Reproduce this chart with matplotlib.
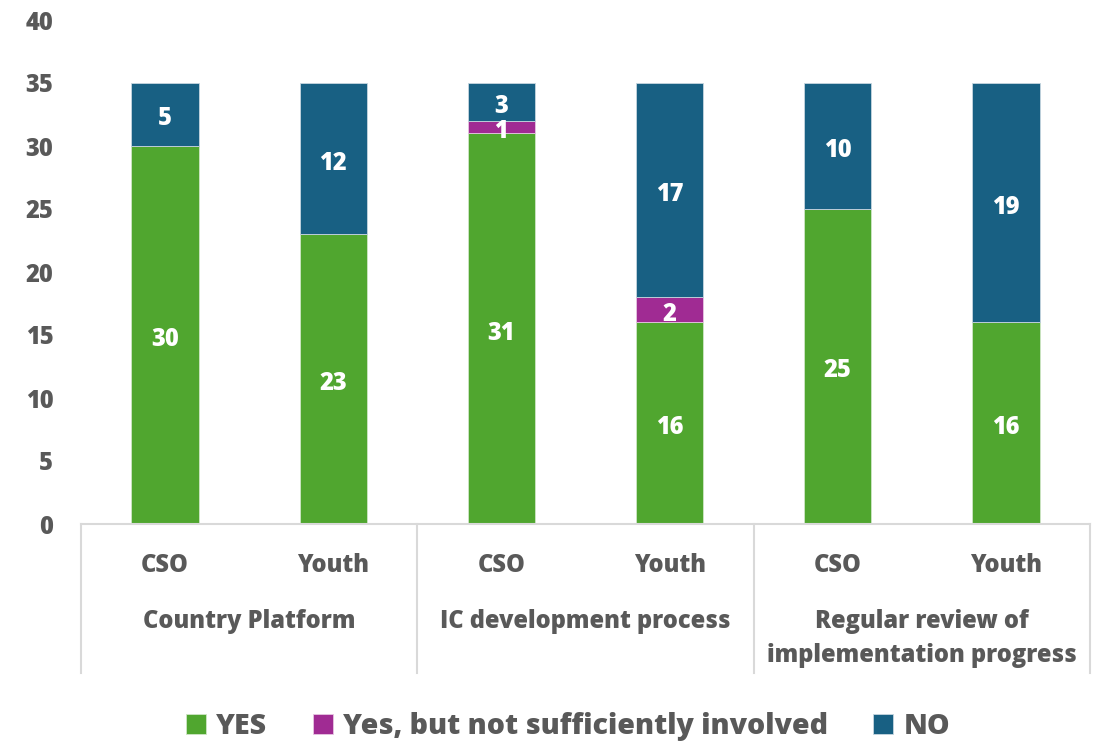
import numpy as np
import matplotlib.pyplot as plt

# survey counts per bar (left to right)
roles = ["CSO", "Youth", "CSO", "Youth", "CSO", "Youth"]
groups = ["Country Platform", "IC development process",
          "Regular review of\nimplementation progress"]
yes = [30, 23, 31, 16, 25, 16]
yes_but = [0, 0, 1, 2, 0, 0]
no = [5, 12, 3, 17, 10, 19]

green = "#50A62F"
purple = "#A02B93"
blue = "#186083"
grey = "#595959"
line_grey = "#D9D9D9"
wt = "heavy"

plt.rcParams['font.family'] = ['Open Sans', 'DejaVu Sans']

fig = plt.figure(figsize=(10.97, 7.41), dpi=100)
ax = fig.add_axes([81 / 1097, 1 - 524 / 741, 1009 / 1097, 504 / 741])

x = np.arange(len(roles))
w = 0.4
yes = np.array(yes)
yes_but = np.array(yes_but)
no = np.array(no)

b1 = ax.bar(x, yes, w, color=green, edgecolor="#cfe6c6", linewidth=0.6, label="YES")
b2 = ax.bar(x, yes_but, w, bottom=yes, color=purple, edgecolor="#e6c6e2",
            linewidth=0.6, label="Yes, but not sufficiently involved")
b3 = ax.bar(x, no, w, bottom=yes + yes_but, color=blue, edgecolor="#c6d6e0",
            linewidth=0.6, label="NO")

# value labels in the middle of each segment (nudged down a little)
for bars, vals, base in [(b1, yes, 0 * yes), (b2, yes_but, yes), (b3, no, yes + yes_but)]:
    for xi, v, b0 in zip(x, vals, base):
        if v > 0:
            ax.text(xi, b0 + v / 2 - 0.35, str(v), ha="center", va="center",
                    color="white", fontsize=17, fontweight=wt)

ax.set_xlim(-0.5, len(roles) - 0.5)
ax.set_ylim(0, 40)
ax.set_yticks(range(0, 41, 5))
ax.tick_params(axis="y", length=0, pad=20, labelsize=17, labelcolor=grey)
for lab in ax.get_yticklabels():
    lab.set_fontweight(wt)
ax.set_xticks([])
for s in ["top", "right", "left"]:
    ax.spines[s].set_visible(False)
ax.spines["bottom"].set_color(line_grey)
ax.spines["bottom"].set_linewidth(1.5)

# two-level category axis
for xi, r in zip(x, roles):
    ax.text(xi, -3.3, r, ha="center", va="center", color=grey,
            fontsize=17, fontweight=wt)
for gi, g in enumerate(groups):
    ax.text(2 * gi + 0.5, -7.7 if "\n" not in g else -9.1, g, ha="center",
            va="center", color=grey, fontsize=17, fontweight=wt,
            linespacing=1.5)
for sep in [-0.5, 1.5, 3.5, 5.5]:
    ax.plot([sep, sep], [0, -11.8], color=line_grey, lw=1.5, clip_on=False)

leg = fig.legend(handles=[b1, b2, b3], loc="center", bbox_to_anchor=(0.518, 0.02),
                 ncol=3, frameon=False, fontsize=20.5, handlelength=0.7,
                 handleheight=0.7, handletextpad=0.35, columnspacing=1.6)
for t in leg.get_texts():
    t.set_color(grey)
    t.set_fontweight(wt)

fig.savefig("out.png", dpi=100)
